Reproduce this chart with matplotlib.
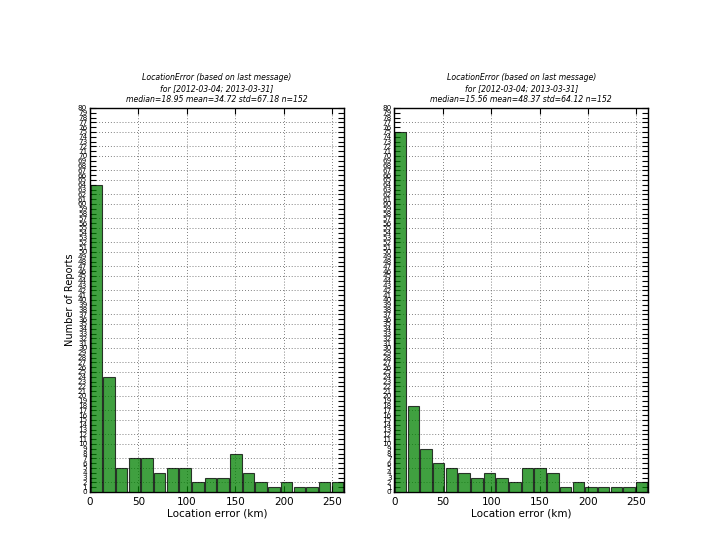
import numpy as np
import matplotlib
matplotlib.use("Agg")
import matplotlib.pyplot as plt

# bin edges (km) and counts
bin_edges = np.linspace(0, 262, 21)
left_counts = [64, 24, 5, 7, 7, 4, 5, 5, 2, 3, 3, 8, 4, 2, 1, 2, 1, 1, 2, 2]
right_counts = [75, 18, 9, 6, 5, 4, 3, 4, 3, 2, 5, 5, 4, 1, 2, 1, 1, 1, 1, 2]

titles = [
    "LocationError (based on last message)\nfor [2012-03-04; 2013-03-31]\nmedian=18.95 mean=34.72 std=67.18 n=152",
    "LocationError (based on last message)\nfor [2012-03-04; 2013-03-31]\nmedian=15.56 mean=48.37 std=64.12 n=152",
]
xticks = [0, 50, 100, 150, 200, 250]
yticks = list(range(0, 81))

fig, axes = plt.subplots(1, 2, figsize=(7.2, 5.4), dpi=100)
fig.subplots_adjust(left=0.125, right=0.9, bottom=0.089, top=0.8, wspace=0.2)

grid_style = dict(color="#555555", linestyle=(0, (1, 2.5)), linewidth=0.6, zorder=1)

for ax, counts, title in zip(axes, [left_counts, right_counts], titles):
    centers = (bin_edges[:-1] + bin_edges[1:]) / 2
    ax.hist(centers, bins=bin_edges, weights=counts, rwidth=0.9,
            facecolor="green", edgecolor="black", linewidth=0.8, alpha=0.75,
            zorder=3)
    ax.set_xlim(bin_edges[0], bin_edges[-1])
    ax.set_ylim(0, 80)
    ax.set_xticks(xticks)
    ax.set_yticks(yticks)
    ax.set_yticklabels([str(v) for v in yticks], fontsize=5.2)
    ax.tick_params(axis="x", labelsize=7.5, direction="in", top=True, length=4)
    ax.tick_params(axis="y", direction="in", right=True, length=4, pad=2)
    # vertical grid at x ticks
    ax.grid(True, axis="x", **grid_style)
    # horizontal grid: the visible (down-sampled) subset of the integer ticks
    for v in yticks:
        if v % 5 in (0, 2) and 0 < v < 80:
            ax.axhline(v, **grid_style)
    for s in ax.spines.values():
        s.set_linewidth(1.0)
    ax.set_title(title, fontsize=5.6, style="italic", linespacing=1.3, pad=4)
    ax.set_xlabel("Location error (km)", fontsize=7.5, labelpad=1)

axes[0].set_ylabel("Number of Reports", fontsize=7, labelpad=2)

fig.savefig("out.png", dpi=100, facecolor="white")
